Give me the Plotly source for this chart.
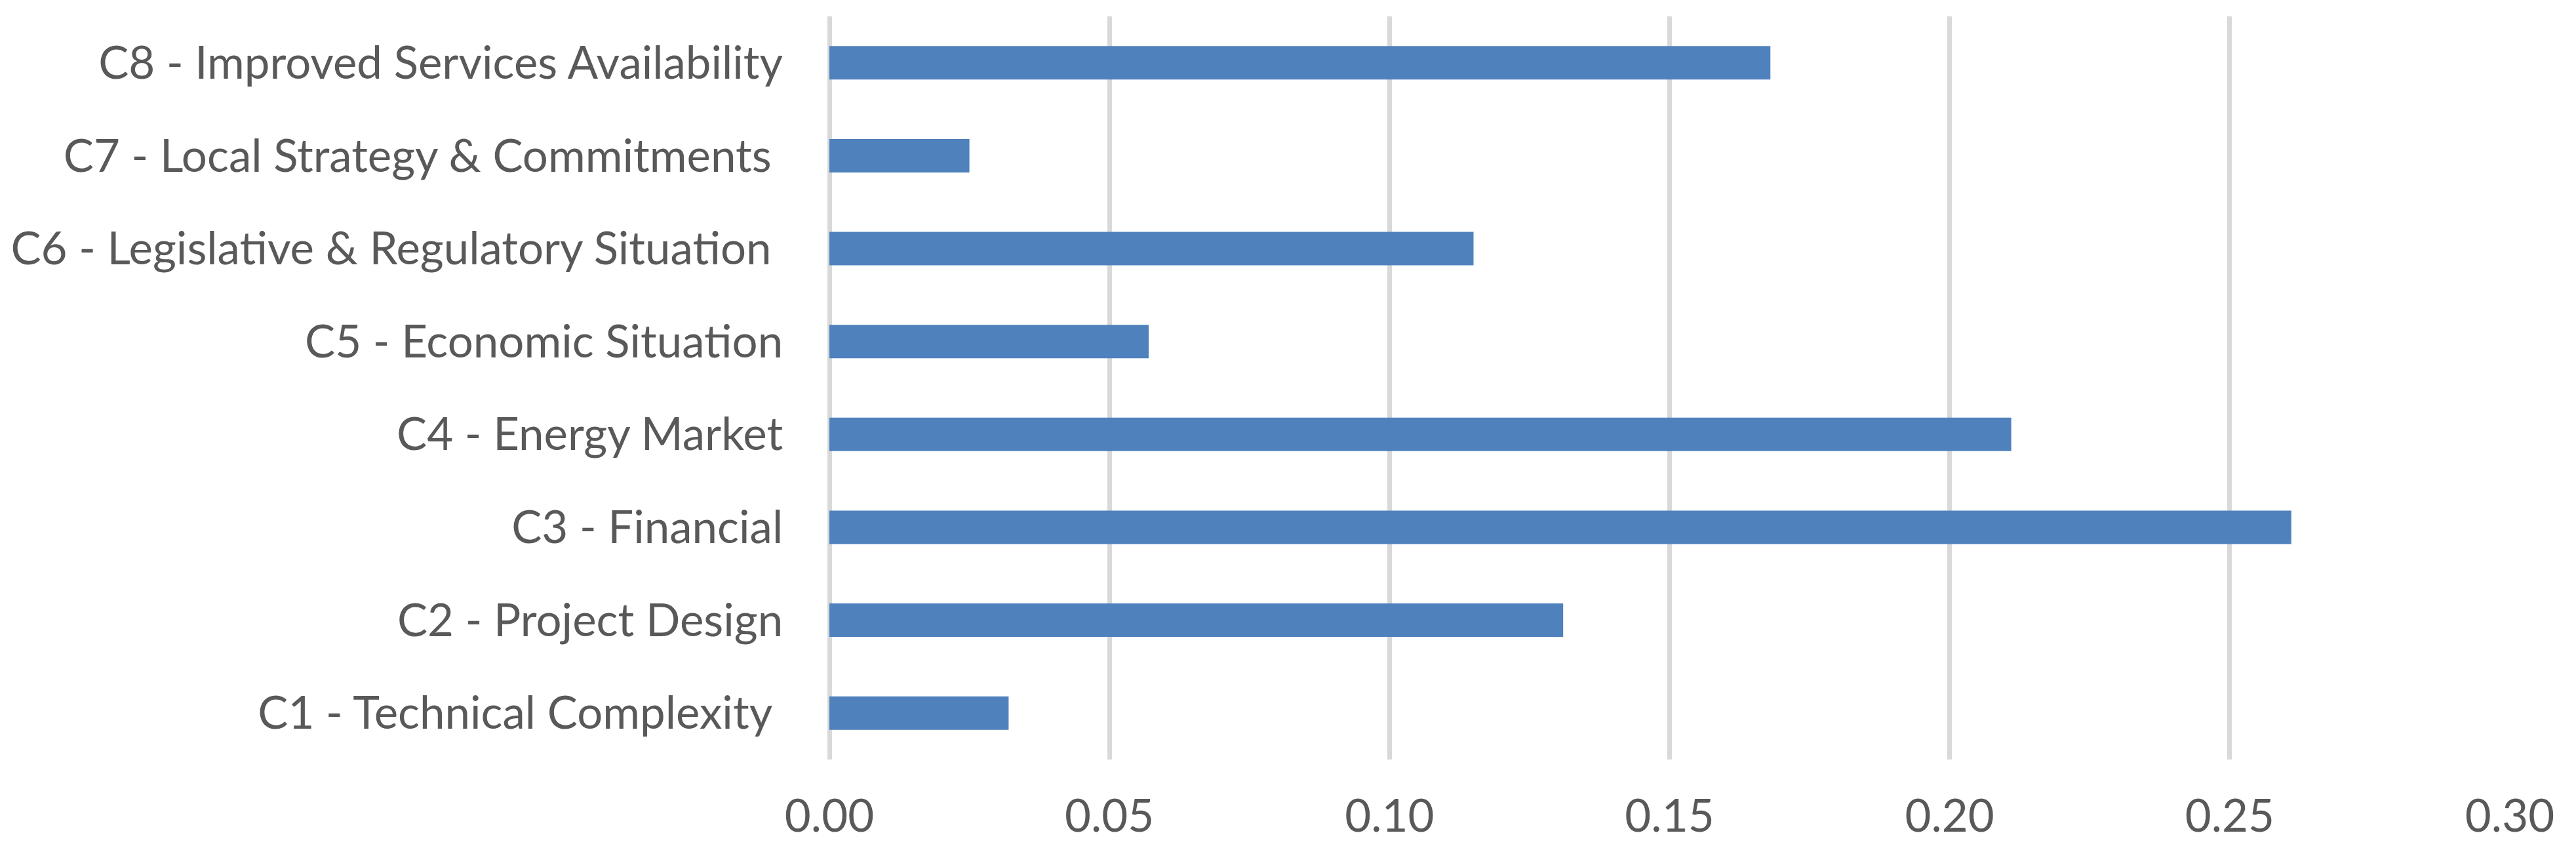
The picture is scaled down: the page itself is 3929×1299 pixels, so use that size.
import plotly.graph_objects as go

categories = [
    "C1 - Technical Complexity\u00a0",
    "C2 - Project Design",
    "C3 - Financial",
    "C4 - Energy Market",
    "C5 - Economic Situation",
    "C6 - Legislative & Regulatory Situation\u00a0",
    "C7 - Local Strategy & Commitments\u00a0",
    "C8 - Improved Services Availability",
]
values = [0.032, 0.131, 0.261, 0.211, 0.057, 0.115, 0.025, 0.168]
x_ticks = [0.0, 0.05, 0.10, 0.15, 0.20, 0.25, 0.30]
x_labels = ["0.00", "0.05", "0.10", "0.15", "0.20", "0.25", "0.30"]

FONT = "Lato"
TEXT = "#595959"
GRID = "#d9d9d9"
FS = 69

fig = go.Figure(
    go.Bar(
        y=categories,
        x=values,
        orientation="h",
        marker=dict(color="#4f81bd", line=dict(width=0)),
    )
)

# page body has an 8px default margin; size the figure so the plot area
# lands where the reference's does
fig.update_layout(
    width=3921,
    height=1291,
    margin=dict(l=1257, r=101, t=17, b=141),
    paper_bgcolor="white",
    plot_bgcolor="white",
    bargap=0.64,
    showlegend=False,
    font=dict(family=FONT, size=FS, color=TEXT),
)

fig.update_xaxes(
    range=[0, 0.30],
    tickvals=x_ticks,
    ticktext=x_labels,
    showgrid=True,
    gridcolor=GRID,
    gridwidth=7,
    zeroline=True,
    zerolinecolor=GRID,
    zerolinewidth=7,
    showline=False,
    ticks="outside",
    ticklen=26,
    tickcolor="rgba(0,0,0,0)",
    tickfont=dict(family=FONT, size=FS, color=TEXT),
    automargin=False,
)

fig.update_yaxes(
    categoryorder="array",
    categoryarray=categories,
    showgrid=False,
    zeroline=False,
    showline=False,
    ticks="outside",
    ticklen=56,
    tickcolor="rgba(0,0,0,0)",
    tickfont=dict(family=FONT, size=FS, color=TEXT),
    automargin=False,
)

fig.write_html("out.html")
